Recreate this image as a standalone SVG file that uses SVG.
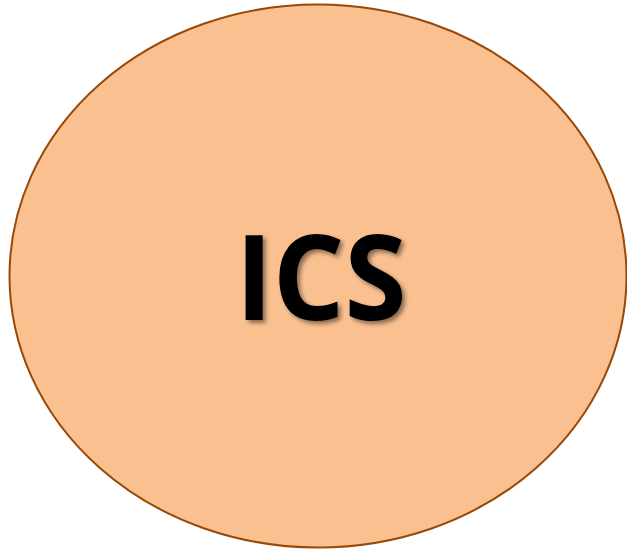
<svg xmlns="http://www.w3.org/2000/svg" width="627" height="550" viewBox="0 0 627 550">
<defs>
<style>
.node-shape{fill:#FAC090;stroke:#984807;stroke-width:2}
.label{font-family:"Open Sans","Noto Sans","DejaVu Sans",sans-serif;font-weight:bold;font-size:118px;fill:#000;text-anchor:middle}
</style>
<filter id="sh" x="-20%" y="-20%" width="140%" height="140%">
<feGaussianBlur in="SourceAlpha" stdDeviation="2"/>
<feOffset dx="3" dy="3" result="b"/>
<feFlood flood-color="#000" flood-opacity="0.45"/>
<feComposite in2="b" operator="in"/>
<feMerge><feMergeNode/><feMergeNode in="SourceGraphic"/></feMerge>
</filter>
</defs>
<rect width="627" height="550" fill="#fff"/>
<g id="connectors"/>
<g id="node-ics">
<ellipse class="node-shape" cx="318" cy="276" rx="308.5" ry="271.5"/>
<text class="label" x="321" y="320" textLength="171" lengthAdjust="spacingAndGlyphs" filter="url(#sh)">ICS</text>
</g>
</svg>
